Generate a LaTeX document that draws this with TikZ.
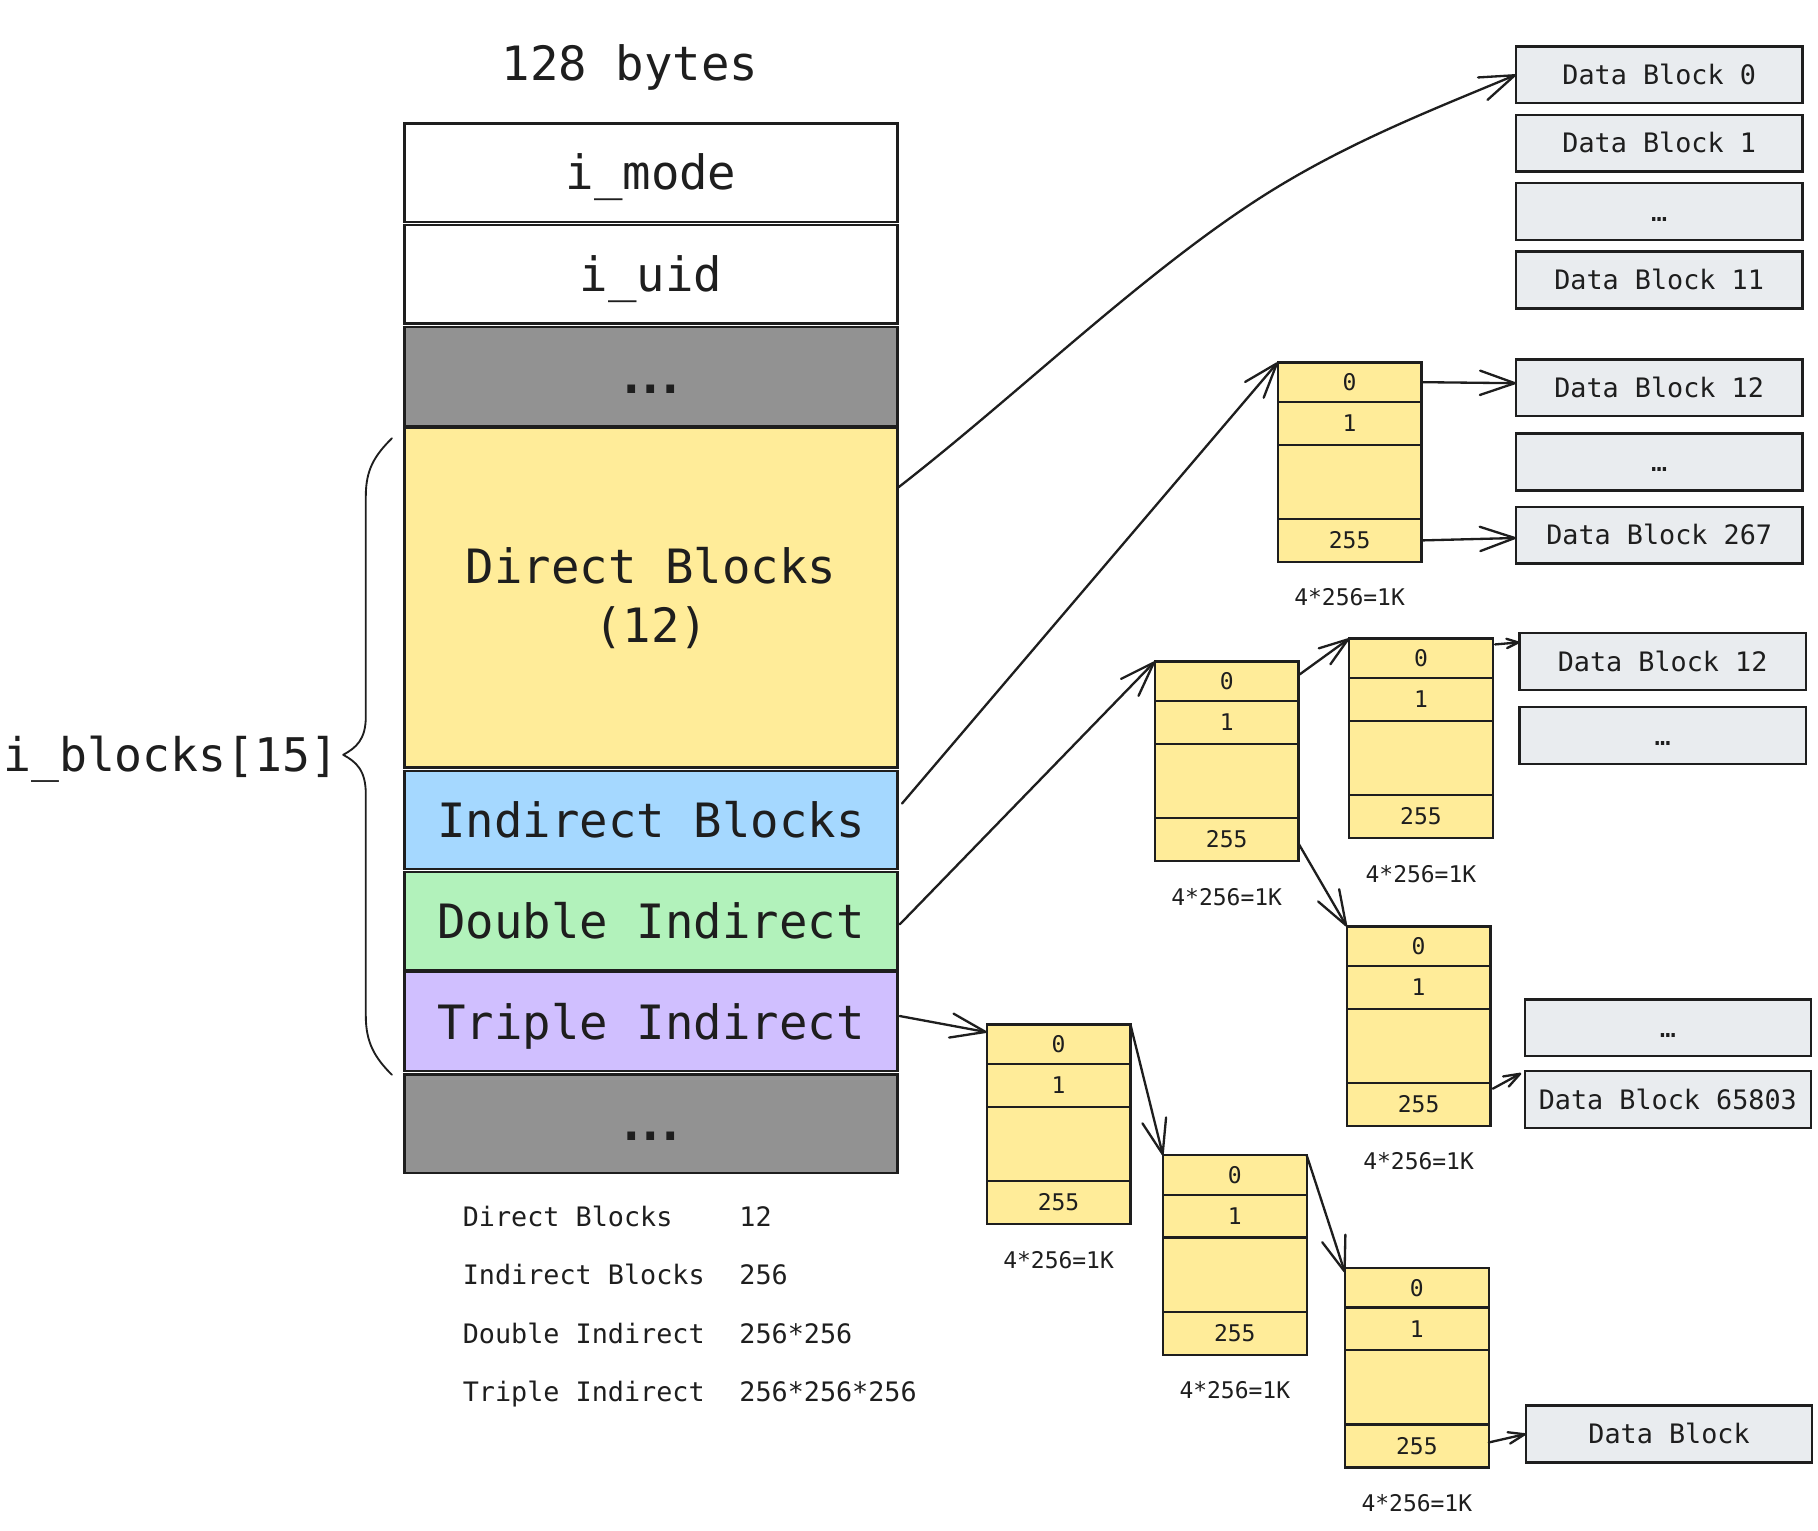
\documentclass[tikz,border=0pt]{standalone}
\usepackage{fontspec}
\setmainfont{DejaVu Sans Mono}
\usetikzlibrary{arrows.meta,calc}
\definecolor{ink}{HTML}{1E1E1E}
\definecolor{grayfill}{HTML}{929292}
\definecolor{yel}{HTML}{FFEC99}
\definecolor{blu}{HTML}{A5D8FF}
\definecolor{grn}{HTML}{B2F2BB}
\definecolor{pur}{HTML}{D0BFFF}
\definecolor{dbf}{HTML}{E9ECEF}
\newcommand\bigdots{\textbf{.\kern-7.6pt.\kern-7.6pt.}}
\tikzset{
  bigf/.style={font=\fontsize{40.8pt}{50.6pt}\selectfont, text=ink},
  dataf/.style={font=\fontsize{23.1pt}{28pt}\selectfont, text=ink},
  cellf/.style={font=\fontsize{19.8pt}{24pt}\selectfont, text=ink},
  box/.style={draw=ink, line width=2pt, inner sep=0pt, outer sep=0pt, anchor=north west},
  mainrow/.style={box, bigf, minimum width=425pt, text height=29.7pt, text depth=0pt},
  datab/.style={box, dataf, fill=dbf, minimum width=247pt, minimum height=49pt, text height=16.8pt, text depth=0pt},
  cellbox/.style={box, cellf, fill=yel, minimum width=124pt, text height=14.4pt, text depth=0pt},
  lbl/.style={cellf, inner sep=0pt},
  legend/.style={dataf, inner sep=0pt, anchor=base west},
  arr/.style={draw=ink, line width=2pt, line cap=round, -{Straight Barb[length=30pt,width=21pt,round]}},
  arrm/.style={draw=ink, line width=2pt, line cap=round, -{Straight Barb[length=25pt,width=17pt,round]}},
  arrt/.style={draw=ink, line width=2pt, line cap=round, -{Straight Barb[length=14pt,width=10pt,round]}},
  arrs/.style={draw=ink, line width=2pt, line cap=round, -{Straight Barb[length=10pt,width=8pt,round]}},
}
\newcommand\ptrblk[3]{%
  \node[cellbox, minimum height=34pt] (#1-0) at (#2,#3) {0};
  \node[cellbox, minimum height=37pt, anchor=north] (#1-1) at (#1-0.south) {1};
  \node[cellbox, minimum height=64pt, anchor=north] (#1-b) at (#1-1.south) {};
  \node[cellbox, minimum height=37pt, anchor=north] (#1-255) at (#1-b.south) {255};
  \node[lbl, anchor=base] (#1-lab) at ($(#1-255.south)+(0,38)$) {4*256=1K};
}
\begin{document}
\begin{tikzpicture}[x=1pt,y=-1pt]
\useasboundingbox (0,0) rectangle (1568,1320);

% title
\node[bigf, anchor=base, inner sep=0pt] (title) at (543.3,69.4) {128 bytes};

% inode column
\node[mainrow, fill=white, minimum height=85pt] (imode) at (349,106.5) {i\_mode};
\node[mainrow, fill=white, minimum height=85pt] (iuid) at (349,194) {i\_uid};
\node[mainrow, fill=grayfill, minimum height=85.4pt] (gray1) at (349,282) {\bigdots};
\node[box, bigf, fill=yel, minimum width=425pt, minimum height=293pt, align=center] (direct) at (349,369) {Direct Blocks\\(12)};
\node[mainrow, fill=blu, minimum height=84.5pt] (indirect) at (349,665) {Indirect Blocks};
\node[mainrow, fill=grn, minimum height=84.5pt] (double) at (349,752) {Double Indirect};
\node[mainrow, fill=pur, minimum height=85.4pt] (triple) at (349,838.6) {Triple Indirect};
\node[mainrow, fill=grayfill, minimum height=85pt] (gray2) at (349,926.6) {\bigdots};

% brace and label
\draw[ink, line width=1.6pt, line cap=round, line join=round]
  (338,378) .. controls (323,393) and (315.5,405) .. (315.5,428)
  -- (315.5,618) .. controls (315.5,638) and (307,645) .. (296,651)
  .. controls (307,657) and (315.5,664) .. (315.5,685)
  -- (315.5,876) .. controls (315.5,899) and (323,912) .. (338,927);
\node[font=\fontsize{40pt}{48pt}\selectfont, text=ink, anchor=base east, inner sep=0pt] (iblocks) at (292,665) {i\_blocks[15]};

% legend
\node[legend] (l1a) at (399,1057.5) {Direct Blocks};
\node[legend] (l1b) at (637.5,1057.5) {12};
\node[legend] (l2a) at (399,1108) {Indirect Blocks};
\node[legend] (l2b) at (637.5,1108) {256};
\node[legend] (l3a) at (399,1158.5) {Double Indirect};
\node[legend] (l3b) at (637.5,1158.5) {256*256};
\node[legend] (l4a) at (399,1208.5) {Triple Indirect};
\node[legend] (l4b) at (637.5,1208.5) {256*256*256};

% data blocks
\node[datab] (D0) at (1307.5,40) {Data Block 0};
\node[datab] (D1) at (1307.5,99) {Data Block 1};
\node[datab] (Dd1) at (1307.5,158) {…};
\node[datab] (D11) at (1307.5,217) {Data Block 11};
\node[datab] (D12) at (1307.5,310) {Data Block 12};
\node[datab] (Dd2) at (1307.5,374) {…};
\node[datab] (D267) at (1307.5,437) {Data Block 267};
\node[datab] (D12b) at (1310.5,546) {Data Block 12};
\node[datab] (Dd3) at (1310.5,610) {…};
\node[datab] (Dd4) at (1315,862) {…};
\node[datab] (D65803) at (1315,923.6) {Data Block 65803};
\node[datab] (DB) at (1316,1212.3) {Data Block};

% pointer blocks
\ptrblk{A}{1102}{312.6}
\ptrblk{B}{996}{570.6}
\ptrblk{C}{1163.5}{550.8}
\ptrblk{D}{1161.5}{799}
\ptrblk{E}{851}{883.7}
\ptrblk{F}{1003}{996.4}
\ptrblk{G}{1160}{1093.6}

% connectors
\coordinate (m1) at (1084,172.5);
\draw[arr] ([yshift=-52pt]direct.north east) .. controls +(103,-80) and +(-103,67) .. (m1)
  .. controls +(74,-48) and +(-74,31) .. (D0.west);
\draw[arr] ([xshift=4pt,yshift=-28pt]indirect.north east) -- (A-0.north west);
\draw[arr] ([xshift=2pt,yshift=-3pt]double.east) -- (B-0.north west);
\draw[arr] ([xshift=2pt,yshift=5pt]triple.east) -- ([yshift=-6.5pt]E-0.north west);
\draw[arr] (A-0.east) -- ([yshift=4pt]D12.west);
\draw[arr] (A-255.east) -- ([yshift=-2.5pt]D267.west);
\draw[arrm] ([xshift=1pt,yshift=-11pt]B-0.north east) -- (C-0.north west);
\draw[arrs] ([xshift=2pt,yshift=-5pt]C-0.north east) -- ([yshift=-8pt]D12b.north west);
\draw[arr] ([yshift=-22pt]B-255.north east) -- (D-0.north west);
\draw[arrt] ([xshift=2pt,yshift=-5pt]D-255.north east) -- ([xshift=-3pt,yshift=-2pt]D65803.north west);
\draw[arr] (E-0.north east) -- (F-0.north west);
\draw[arr] (F-0.north east) -- ([yshift=-4pt]G-0.north west);
\draw[arrt] ([yshift=3pt]G-255.east) -- (DB.west);
\end{tikzpicture}
\end{document}
